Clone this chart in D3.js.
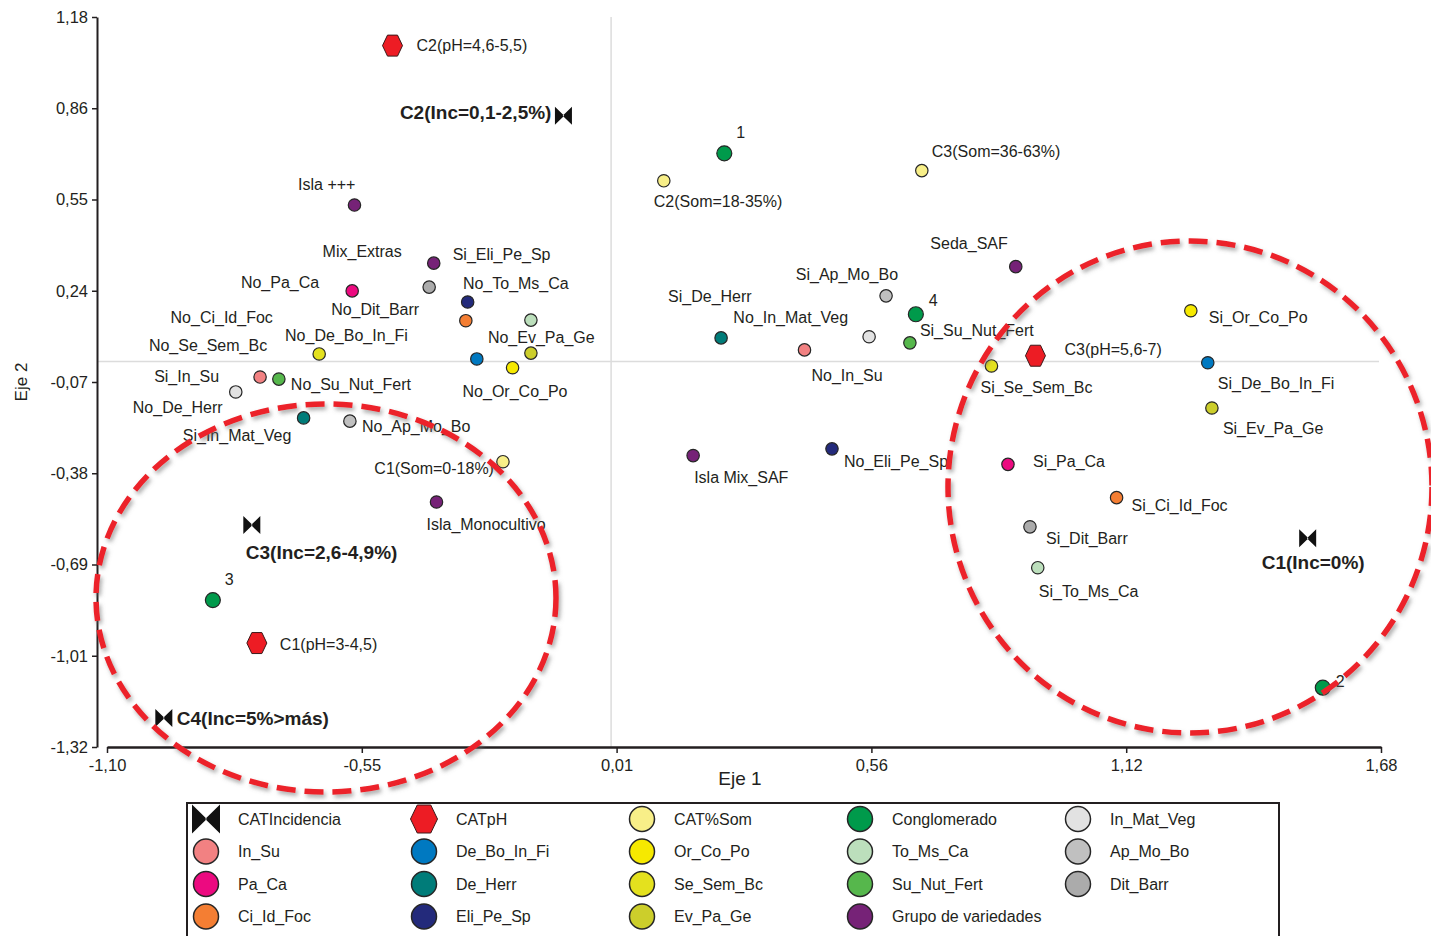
<!DOCTYPE html>
<html>
<head>
<meta charset="utf-8">
<script src="https://cdn.jsdelivr.net/npm/d3@7"></script>
<style>
  body { margin: 0; background: #fff; }
  text { font-family: "Liberation Sans Narrow", "Arial Narrow", "Liberation Sans", Arial, sans-serif; fill: #231f20; }
</style>
</head>
<body>
<script>
// Data
var xTickValues = [-1.10, -0.544, 0.012, 0.568, 1.124, 1.68];
var xTickLabels = ["-1,10", "-0,55", "0,01", "0,56", "1,12", "1,68"];
var yTickValues = [1.18, 0.8675, 0.555, 0.2425, -0.07, -0.3825, -0.695, -1.0075, -1.32];
var yTickLabels = ["1,18", "0,86", "0,55", "0,24", "-0,07", "-0,38", "-0,69", "-1,01", "-1,32"];

var groups = ["CATIncidencia", "In_Su", "Pa_Ca", "Ci_Id_Foc",
              "CATpH", "De_Bo_In_Fi", "De_Herr", "Eli_Pe_Sp",
              "CAT%Som", "Or_Co_Po", "Se_Sem_Bc", "Ev_Pa_Ge",
              "Conglomerado", "To_Ms_Ca", "Su_Nut_Fert", "Grupo de variedades",
              "In_Mat_Veg", "Ap_Mo_Bo", "Dit_Barr"];

var pointNames = ["C2(Inc=0,1-2,5%)", "C3(Inc=2,6-4,9%)", "C4(Inc=5%>más)", "C1(Inc=0%)",
                  "C2(pH=4,6-5,5)", "C1(pH=3-4,5)", "C3(pH=5,6-7)",
                  "C2(Som=18-35%)", "C3(Som=36-63%)", "C1(Som=0-18%)",
                  "1", "4", "3", "2",
                  "Isla +++", "Mix_Extras", "Isla_Monocultivo", "Isla Mix_SAF", "Seda_SAF",
                  "Si_In_Su", "No_In_Su", "No_Pa_Ca", "Si_Pa_Ca", "No_Ci_Id_Foc", "Si_Ci_Id_Foc",
                  "No_De_Bo_In_Fi", "Si_De_Bo_In_Fi", "No_De_Herr", "Si_De_Herr",
                  "Si_Eli_Pe_Sp", "No_Eli_Pe_Sp", "No_Or_Co_Po", "Si_Or_Co_Po",
                  "No_Se_Sem_Bc", "Si_Se_Sem_Bc", "No_Ev_Pa_Ge", "Si_Ev_Pa_Ge",
                  "No_To_Ms_Ca", "Si_To_Ms_Ca", "No_Su_Nut_Fert", "Si_Su_Nut_Fert",
                  "Si_In_Mat_Veg", "No_In_Mat_Veg", "No_Ap_Mo_Bo", "Si_Ap_Mo_Bo",
                  "No_Dit_Barr", "Si_Dit_Barr"];

var pointGroups = ["CATIncidencia", "CATIncidencia", "CATIncidencia", "CATIncidencia",
                   "CATpH", "CATpH", "CATpH",
                   "CAT%Som", "CAT%Som", "CAT%Som",
                   "Conglomerado", "Conglomerado", "Conglomerado", "Conglomerado",
                   "Grupo de variedades", "Grupo de variedades", "Grupo de variedades", "Grupo de variedades", "Grupo de variedades",
                   "In_Su", "In_Su", "Pa_Ca", "Pa_Ca", "Ci_Id_Foc", "Ci_Id_Foc",
                   "De_Bo_In_Fi", "De_Bo_In_Fi", "De_Herr", "De_Herr",
                   "Eli_Pe_Sp", "Eli_Pe_Sp", "Or_Co_Po", "Or_Co_Po",
                   "Se_Sem_Bc", "Se_Sem_Bc", "Ev_Pa_Ge", "Ev_Pa_Ge",
                   "To_Ms_Ca", "To_Ms_Ca", "Su_Nut_Fert", "Su_Nut_Fert",
                   "In_Mat_Veg", "In_Mat_Veg", "Ap_Mo_Bo", "Ap_Mo_Bo",
                   "Dit_Barr", "Dit_Barr"];

var eje1 = [-0.104, -0.784, -0.976, 1.520,
            -0.477, -0.773, 0.926,
            0.115, 0.678, -0.236,
            0.247, 0.665, -0.869, 1.553,
            -0.560, -0.387, -0.381, 0.179, 0.883,
            -0.766, 0.422, -0.565, 0.866, -0.317, 1.103,
            -0.293, 1.302, -0.671, 0.240,
            -0.313, 0.482, -0.215, 1.265,
            -0.637, 0.830, -0.175, 1.311,
            -0.175, 0.931, -0.725, 0.652,
            -0.819, 0.563, -0.570, 0.600,
            -0.397, 0.914];

var eje2 = [0.842, -0.560, -1.221, -0.605,
            1.082, -0.964, 0.020,
            0.619, 0.654, -0.343,
            0.713, 0.162, -0.817, -1.117,
            0.536, 0.337, -0.481, -0.322, 0.325,
            -0.053, 0.040, 0.242, -0.352, 0.140, -0.466,
            0.009, -0.004, -0.193, 0.081,
            0.204, -0.299, -0.021, 0.174,
            0.026, -0.015, 0.029, -0.159,
            0.142, -0.706, -0.060, 0.064,
            -0.104, 0.085, -0.204, 0.225,
            0.255, -0.566];

// label placement in pixels next to each point: [dx, dy, anchor]
var labelPlace = [[-12, -3, "end"], [-6, 27, "start"], [13, 0, "start"], [-46, 24, "start"],
                  [24, 0, "start"], [23, 1, "start"], [29, -6, "start"],
                  [-10, 21, "start"], [10, -19, "start"], [-9, 7, "end"],
                  [12, -21, "start"], [13, -14, "start"], [12, -21, "start"], [13, -6, "start"],
                  [1, -21, "end"], [-32, -12, "end"], [-10, 22, "start"], [1, 22, "start"], [-8, -23, "end"],
                  [-41, -1, "end"], [7, 26, "start"], [-33, -8, "end"], [25, -3, "start"], [-193, -3, "end"], [15, 8, "start"],
                  [-69, -24, "end"], [10, 21, "start"], [-81, -11, "end"], [-53, -42, "start"],
                  [-15, -48, "start"], [12, 13, "start"], [-50, 24, "start"], [18, 7, "start"],
                  [-52, -9, "end"], [-11, 21, "start"], [-43, -16, "start"], [11, 20, "start"],
                  [-68, -37, "start"], [1, 24, "start"], [12, 5, "start"], [10, -12, "start"],
                  [-53, 43, "start"], [-21, -19, "end"], [12, 5, "start"], [12, -21, "end"],
                  [-10, 22, "end"], [16, 12, "start"]];

var colors = {
  "CATIncidencia": "#111111", "CATpH": "#ed1c24", "CAT%Som": "#f8ef88", "Conglomerado": "#009a4b",
  "In_Mat_Veg": "#e2e2e2", "In_Su": "#f28182", "De_Bo_In_Fi": "#0079c1", "Or_Co_Po": "#f6e900",
  "To_Ms_Ca": "#bcdfbc", "Ap_Mo_Bo": "#c0c0c0", "Pa_Ca": "#ec0a80", "De_Herr": "#007c79",
  "Se_Sem_Bc": "#e4e11e", "Su_Nut_Fert": "#56b74c", "Dit_Barr": "#ababab", "Ci_Id_Foc": "#f47e33",
  "Eli_Pe_Sp": "#232a7b", "Ev_Pa_Ge": "#ccce2b", "Grupo de variedades": "#762277"
};

var w = 1431;
var h = 936;

var svg = d3.select("body")
            .append("svg")
            .attr("width", w)
            .attr("height", h);

var xScale = d3.scaleLinear().domain([-1.10, 1.68]).range([107, 1381]);
var yScale = d3.scaleLinear().domain([-1.32, 1.18]).range([747, 17]);

// shadow for the dashed circles
var defs = svg.append("defs");
defs.append("filter")
    .attr("id", "shadow")
    .attr("x", "-10%").attr("y", "-10%").attr("width", "120%").attr("height", "120%")
    .append("feDropShadow")
    .attr("dx", 2).attr("dy", 3)
    .attr("stdDeviation", 2)
    .attr("flood-color", "#666")
    .attr("flood-opacity", 0.55);

// zero lines
svg.append("line")
   .attr("x1", xScale(0)).attr("x2", xScale(0))
   .attr("y1", 17).attr("y2", 747)
   .attr("stroke", "#dcdcdc").attr("stroke-width", 1.5);
svg.append("line")
   .attr("x1", 97).attr("x2", 1379)
   .attr("y1", yScale(0)).attr("y2", yScale(0))
   .attr("stroke", "#dcdcdc").attr("stroke-width", 1.5);

// axes
var xAxis = d3.axisBottom(xScale)
              .tickValues(xTickValues)
              .tickFormat(function(d, i) { return xTickLabels[i]; })
              .tickSize(6).tickSizeOuter(0).tickPadding(6);
var gx = svg.append("g").attr("transform", "translate(0,747)").call(xAxis);
gx.select(".domain").attr("stroke", "#231f20").attr("stroke-width", 2.5);

var yAxis = d3.axisLeft(yScale)
              .tickValues(yTickValues)
              .tickFormat(function(d, i) { return yTickLabels[i]; })
              .tickSize(5).tickSizeOuter(0).tickPadding(4);
var gy = svg.append("g").attr("transform", "translate(97,0)").call(yAxis);
gy.select(".domain").attr("stroke", "#231f20").attr("stroke-width", 2);

svg.selectAll(".tick text")
   .attr("font-size", "16.5px")
   .attr("fill", "#333")
   .style("font-size", "16.5px");
svg.selectAll(".tick line").attr("stroke", "#231f20").attr("stroke-width", 1.5);

svg.append("text")
   .attr("x", 740).attr("y", 785)
   .attr("text-anchor", "middle")
   .attr("font-size", "19px")
   .attr("fill", "#333")
   .text("Eje 1");
svg.append("text")
   .attr("transform", "translate(27,382) rotate(-90)")
   .attr("text-anchor", "middle")
   .attr("font-size", "17px")
   .attr("fill", "#333")
   .text("Eje 2");

var points = pointNames.map(function(name, i) {
  return { name: name, group: pointGroups[i], x: eje1[i], y: eje2[i], place: labelPlace[i] };
});

function isBold(d) { return d.group === "CATIncidencia"; }

// labels with white boxes (they hide the zero lines)
var labelG = svg.append("g");
var labels = labelG.selectAll("g")
   .data(points)
   .enter()
   .append("g");

labels.append("text")
   .attr("x", function(d) { return xScale(d.x) + d.place[0]; })
   .attr("y", function(d) { return yScale(d.y) + d.place[1]; })
   .attr("dy", "0.35em")
   .attr("text-anchor", function(d) { return d.place[2]; })
   .attr("font-size", function(d) { return isBold(d) ? "19px" : "16px"; })
   .attr("font-weight", function(d) { return isBold(d) ? "bold" : "normal"; })
   .text(function(d) { return d.name; });

labels.each(function() {
  var g = d3.select(this);
  var bb = g.select("text").node().getBBox();
  g.insert("rect", "text")
   .attr("x", bb.x - 1).attr("y", bb.y + 2)
   .attr("width", bb.width + 2).attr("height", bb.height - 4)
   .attr("fill", "#fff");
});

// marker shapes
function bowtie(wd, ht) {
  return "M" + (-wd / 2) + "," + (-ht / 2) + "L0.8,0L" + (-wd / 2) + "," + (ht / 2) + "Z" +
         "M" + (wd / 2) + "," + (-ht / 2) + "L-0.8,0L" + (wd / 2) + "," + (ht / 2) + "Z";
}
function hexagon(wd, ht) {
  var a = wd / 2, b = wd / 4, c = ht / 2;
  return "M" + (-a) + ",0L" + (-b) + "," + (-c) + "L" + b + "," + (-c) + "L" + a + ",0L" + b + "," + c + "L" + (-b) + "," + c + "Z";
}

function drawMarker(sel, group, big) {
  if (group === "CATIncidencia") {
    sel.append("path").attr("d", big ? bowtie(28, 29) : bowtie(17, 18)).attr("fill", "#111");
  } else if (group === "CATpH") {
    sel.append("path").attr("d", big ? hexagon(27, 28) : hexagon(20, 21))
       .attr("fill", colors[group]).attr("stroke", "#3a1a1a").attr("stroke-width", 1);
  } else {
    var r = big ? 12.5 : (group === "Conglomerado" ? 7.5 : 6.2);
    sel.append("circle").attr("r", r)
       .attr("fill", colors[group]).attr("stroke", "#262626").attr("stroke-width", big ? 1.5 : 1.2);
  }
}

svg.append("g").selectAll("g")
   .data(points)
   .enter()
   .append("g")
   .attr("transform", function(d) { return "translate(" + xScale(d.x) + "," + yScale(d.y) + ")"; })
   .each(function(d) { drawMarker(d3.select(this), d.group, false); });

// dashed red circles around the two clusters
var ellipses = [{cx: 326, cy: 598, rx: 230, ry: 194}, {cx: 1190, cy: 487, rx: 242, ry: 246}];
svg.append("g").selectAll("ellipse")
   .data(ellipses)
   .enter()
   .append("ellipse")
   .attr("cx", function(d) { return d.cx; })
   .attr("cy", function(d) { return d.cy; })
   .attr("rx", function(d) { return d.rx; })
   .attr("ry", function(d) { return d.ry; })
   .attr("fill", "none")
   .attr("stroke", "#ec2229")
   .attr("stroke-width", 5.5)
   .attr("stroke-dasharray", "19 9")
   .attr("filter", "url(#shadow)");

// legend
var legend = svg.append("g");
legend.append("rect")
      .attr("x", 187).attr("y", 803)
      .attr("width", 1092).attr("height", 150)
      .attr("fill", "#fff")
      .attr("stroke", "#231f20").attr("stroke-width", 2);

var items = legend.selectAll(".item")
   .data(groups)
   .enter()
   .append("g")
   .attr("class", "item")
   .attr("transform", function(d, i) {
     return "translate(" + (206 + Math.floor(i / 4) * 218) + "," + (819 + (i % 4) * 32.5) + ")";
   });

items.each(function(d) { drawMarker(d3.select(this), d, true); });

items.append("text")
     .attr("x", 32)
     .attr("dy", "0.35em")
     .attr("font-size", "16px")
     .text(function(d) { return d; });
</script>
</body>
</html>
